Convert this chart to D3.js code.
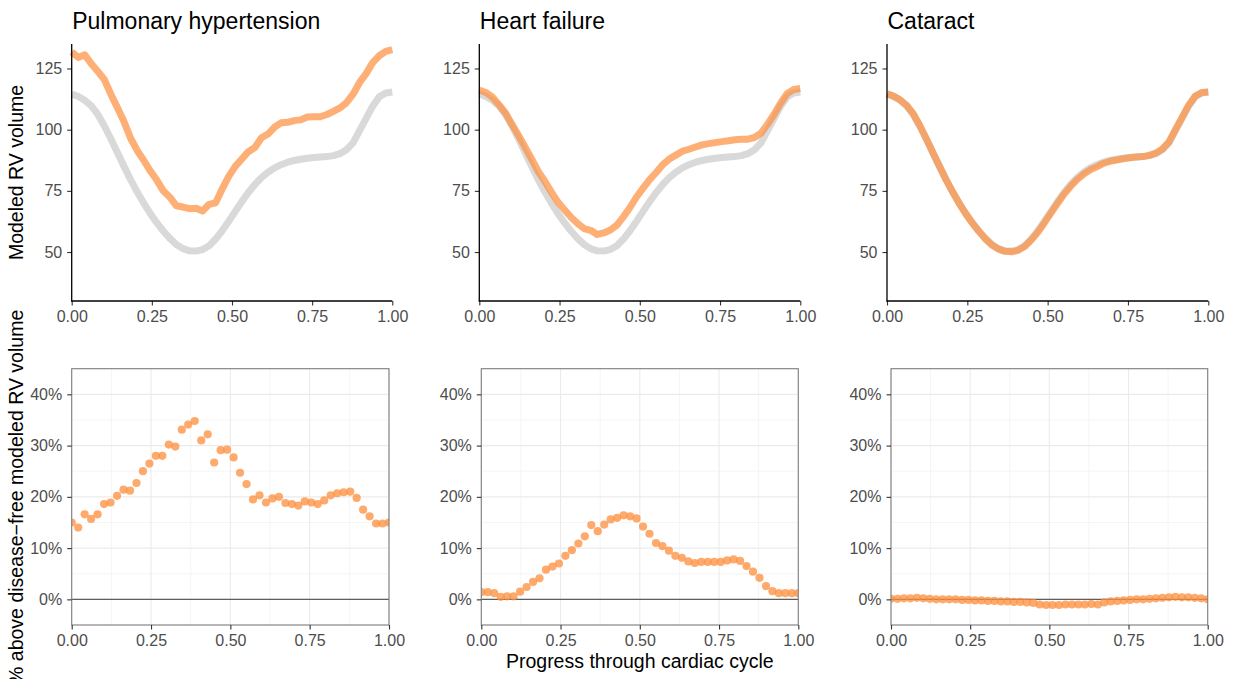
<!DOCTYPE html>
<html>
<head>
<meta charset="utf-8">
<script src="https://cdn.jsdelivr.net/npm/d3@7"></script>
<style>
  html, body { margin: 0; padding: 0; background: #ffffff; }
  svg { display: block; }
  text { font-family: "Liberation Sans", Arial, Helvetica, sans-serif; }
</style>
</head>
<body>
<svg id="chart" width="1233" height="679"></svg>
<script>
// Sample positions through one cardiac cycle (50 samples, 0 to 1)
const cycleProgress = [0, 0.0204, 0.0408, 0.0612, 0.0816, 0.1020, 0.1224, 0.1429, 0.1633, 0.1837,
  0.2041, 0.2245, 0.2449, 0.2653, 0.2857, 0.3061, 0.3265, 0.3469, 0.3673, 0.3878,
  0.4082, 0.4286, 0.4490, 0.4694, 0.4898, 0.5102, 0.5306, 0.5510, 0.5714, 0.5918,
  0.6122, 0.6327, 0.6531, 0.6735, 0.6939, 0.7143, 0.7347, 0.7551, 0.7755, 0.7959,
  0.8163, 0.8367, 0.8571, 0.8776, 0.8980, 0.9184, 0.9388, 0.9592, 0.9796, 1];

// Disease-free modeled RV volume (same reference curve in every panel)
const baselineVolume = [114.6, 113.6, 112.0, 109.7, 106.2, 101.5, 96.2, 90.6, 85.0, 79.6,
  74.6, 70.0, 65.8, 62.0, 58.6, 55.6, 53.1, 51.4, 50.5, 50.4,
  51.0, 52.6, 55.3, 58.7, 62.6, 66.6, 70.6, 74.3, 77.6, 80.4,
  82.6, 84.4, 85.7, 86.7, 87.4, 87.9, 88.3, 88.6, 88.8, 89.0,
  89.4, 90.2, 91.8, 94.6, 99.6, 104.6, 109.6, 113.4, 115.0, 115.4];

// Modeled RV volume with each condition
const phVolume = [131.8, 129.5, 130.6, 126.9, 123.8, 120.4, 114.4, 108.9, 103.2, 96.5,
  91.5, 87.5, 83.2, 79.4, 75.0, 72.4, 68.9, 68.4, 67.7, 67.9,
  66.8, 69.5, 70.1, 75.8, 80.9, 85.0, 88.0, 91.0, 92.7, 96.7,
  98.2, 101.0, 102.8, 103.0, 103.7, 104.0, 105.2, 105.3, 105.3, 106.2,
  107.5, 108.9, 111.0, 114.5, 119.3, 122.9, 127.4, 130.2, 132.0, 132.7];

const hfVolume = [116.2, 115.2, 113.3, 110.2, 106.8, 102.1, 97.6, 92.8, 87.9, 82.9,
  78.9, 74.5, 70.4, 67.3, 64.2, 61.7, 59.6, 58.9, 57.2, 57.8,
  59.0, 61.0, 64.4, 68.2, 72.5, 76.1, 79.6, 82.5, 85.7, 88.0,
  89.6, 91.2, 92.0, 92.9, 93.8, 94.3, 94.7, 95.1, 95.5, 95.9,
  96.1, 96.1, 96.8, 98.6, 102.2, 106.3, 110.9, 114.8, 116.4, 116.8];

const cataractVolume = [114.7, 113.7, 112.2, 109.9, 106.5, 101.7, 96.3, 90.6, 85.0, 79.6,
  74.6, 69.9, 65.7, 61.9, 58.5, 55.4, 52.9, 51.2, 50.3, 50.1,
  50.7, 52.3, 54.9, 58.1, 61.9, 65.9, 69.8, 73.6, 76.8, 79.6,
  81.8, 83.6, 84.8, 86.2, 87.1, 87.6, 88.1, 88.5, 88.8, 89.0,
  89.5, 90.4, 92.1, 95.0, 100.1, 105.0, 110.0, 113.7, 115.2, 115.4];

// Percent above the disease-free modeled RV volume
const phExcess = [15.0, 14.0, 16.6, 15.7, 16.6, 18.6, 18.9, 20.2, 21.4, 21.2,
  22.7, 25.0, 26.5, 28.0, 28.0, 30.2, 29.8, 33.1, 34.1, 34.8,
  31.0, 32.2, 26.7, 29.1, 29.2, 27.7, 24.7, 22.5, 19.5, 20.3,
  18.9, 19.7, 20.0, 18.8, 18.6, 18.3, 19.1, 18.9, 18.6, 19.3,
  20.3, 20.7, 20.9, 21.0, 19.8, 17.5, 16.2, 14.8, 14.8, 15.0];

const hfExcess = [1.4, 1.4, 1.2, 0.5, 0.6, 0.6, 1.5, 2.4, 3.4, 4.1,
  5.8, 6.4, 7.0, 8.5, 9.6, 10.9, 12.3, 14.5, 13.3, 14.6,
  15.6, 15.9, 16.4, 16.2, 15.8, 14.2, 12.8, 11.0, 10.4, 9.5,
  8.5, 8.1, 7.4, 7.1, 7.3, 7.3, 7.3, 7.3, 7.6, 7.8,
  7.5, 6.5, 5.4, 4.2, 2.6, 1.6, 1.2, 1.2, 1.2, 1.2];

const cataractExcess = [0.1, 0.1, 0.2, 0.2, 0.3, 0.2, 0.1, 0.0, 0.0, 0.0,
  0.0, -0.1, -0.1, -0.2, -0.2, -0.3, -0.3, -0.4, -0.4, -0.5,
  -0.5, -0.6, -0.7, -1.0, -1.1, -1.1, -1.1, -1.0, -1.0, -1.0,
  -1.0, -0.9, -1.0, -0.6, -0.4, -0.3, -0.2, -0.1, 0.0, 0.0,
  0.1, 0.2, 0.3, 0.4, 0.5, 0.4, 0.4, 0.3, 0.2, 0.0];

const panelTitles = ["Pulmonary hypertension", "Heart failure", "Cataract"];
const diseaseVolumes = [phVolume, hfVolume, cataractVolume];
const diseaseExcess = [phExcess, hfExcess, cataractExcess];

const progressTicks = [0, 0.25, 0.5, 0.75, 1];
const progressMinor = [0.125, 0.375, 0.625, 0.875];
const volumeTicks = [50, 75, 100, 125];
const excessTicks = [0, 10, 20, 30, 40];
const excessMinor = [-5, 5, 15, 25, 35, 45];

const volumeDomain = [30, 135];
const excessDomain = [-5, 45];

// ---- layout ----
const topRow = { y0: 44, y1: 301, cols: [[71.7, 392.3], [479.3, 800.3], [887, 1208.3]] };
const bottomRow = { y0: 368.7, y1: 625, cols: [[71.7, 389], [481.3, 798.3], [891, 1207.7]] };

const ORANGE = "#fd8d3c";
const GREY_LINE = "#d9d9d9";
const TICK_TEXT = "#4d4d4d";
const TICK_LINE = "#333333";
const FS_TICK = 16;

const svg = d3.select("#chart");

function styleAxis(g) {
  g.select(".domain").remove();
  g.selectAll(".tick line").attr("stroke", TICK_LINE).attr("stroke-width", 1.1);
  g.selectAll(".tick text").attr("fill", TICK_TEXT).attr("font-size", FS_TICK)
    .attr("font-family", "'Liberation Sans', Arial, Helvetica, sans-serif");
}

// ---- top row: modeled volume curves ----
topRow.cols.forEach(([x0, x1], k) => {
  const x = d3.scaleLinear().domain([0, 1]).range([x0, x1]);
  const y = d3.scaleLinear().domain(volumeDomain).range([topRow.y1, topRow.y0]);
  const g = svg.append("g");

  const line = (vals) => d3.line()
    .x((d, i) => x(cycleProgress[i]))
    .y(d => y(d))
    .curve(d3.curveLinear)(vals);

  g.append("path")
    .attr("d", line(baselineVolume))
    .attr("fill", "none")
    .attr("stroke", GREY_LINE)
    .attr("stroke-width", 7)
    .attr("stroke-linejoin", "round");

  g.append("path")
    .attr("d", line(diseaseVolumes[k]))
    .attr("fill", "none")
    .attr("stroke", ORANGE)
    .attr("stroke-opacity", 0.7)
    .attr("stroke-width", 7)
    .attr("stroke-linejoin", "round");

  // axes (classic style: left and bottom lines only)
  g.append("g")
    .attr("transform", `translate(${x0},0)`)
    .call(d3.axisLeft(y).tickValues(volumeTicks).tickSize(4.5).tickPadding(5).tickFormat(d3.format("d")))
    .call(styleAxis);
  g.append("g")
    .attr("transform", `translate(0,${topRow.y1})`)
    .call(d3.axisBottom(x).tickValues(progressTicks).tickSize(4.5).tickPadding(5).tickFormat(d3.format(".2f")))
    .call(styleAxis);

  g.append("line")
    .attr("x1", x0).attr("x2", x0).attr("y1", topRow.y0).attr("y2", topRow.y1 + 0.5)
    .attr("stroke", "#000").attr("stroke-width", 1.3);
  g.append("line")
    .attr("x1", x0 - 0.5).attr("x2", x1).attr("y1", topRow.y1).attr("y2", topRow.y1)
    .attr("stroke", "#000").attr("stroke-width", 1.3);

  svg.append("text")
    .attr("x", x0 + 0.5).attr("y", 28.5)
    .attr("font-size", 23)
    .attr("fill", "#000")
    .text(panelTitles[k]);
});

// ---- bottom row: percent above disease-free volume ----
bottomRow.cols.forEach(([x0, x1], k) => {
  const x = d3.scaleLinear().domain([0, 1]).range([x0, x1]);
  const y = d3.scaleLinear().domain(excessDomain).range([bottomRow.y1, bottomRow.y0]);
  const g = svg.append("g");
  const clipId = `clip-${k}`;

  g.append("clipPath").attr("id", clipId)
    .append("rect")
    .attr("x", x0).attr("y", bottomRow.y0)
    .attr("width", x1 - x0).attr("height", bottomRow.y1 - bottomRow.y0);

  // minor grid
  g.selectAll(".vminor").data(progressMinor).join("line")
    .attr("x1", d => x(d)).attr("x2", d => x(d))
    .attr("y1", bottomRow.y0).attr("y2", bottomRow.y1)
    .attr("stroke", "#f2f2f2").attr("stroke-width", 0.8);
  g.selectAll(".hminor").data(excessMinor).join("line")
    .attr("x1", x0).attr("x2", x1)
    .attr("y1", d => y(d)).attr("y2", d => y(d))
    .attr("stroke", "#f2f2f2").attr("stroke-width", 0.8);
  // major grid
  g.selectAll(".vmajor").data(progressTicks).join("line")
    .attr("x1", d => x(d)).attr("x2", d => x(d))
    .attr("y1", bottomRow.y0).attr("y2", bottomRow.y1)
    .attr("stroke", "#ebebeb").attr("stroke-width", 1.1);
  g.selectAll(".hmajor").data(excessTicks).join("line")
    .attr("x1", x0).attr("x2", x1)
    .attr("y1", d => y(d)).attr("y2", d => y(d))
    .attr("stroke", "#ebebeb").attr("stroke-width", 1.1);

  // zero reference line
  g.append("line")
    .attr("x1", x0).attr("x2", x1)
    .attr("y1", y(0)).attr("y2", y(0))
    .attr("stroke", "#5e5e5e").attr("stroke-width", 1.2);

  // points
  g.append("g").attr("clip-path", `url(#${clipId})`)
    .selectAll("circle")
    .data(diseaseExcess[k])
    .join("circle")
    .attr("cx", (d, i) => x(cycleProgress[i]))
    .attr("cy", d => y(d))
    .attr("r", 4.1)
    .attr("fill", ORANGE)
    .attr("fill-opacity", 0.75);

  // panel border
  g.append("rect")
    .attr("x", x0).attr("y", bottomRow.y0)
    .attr("width", x1 - x0).attr("height", bottomRow.y1 - bottomRow.y0)
    .attr("fill", "none").attr("stroke", "#7f7f7f").attr("stroke-width", 1.1);

  g.append("g")
    .attr("transform", `translate(${x0},0)`)
    .call(d3.axisLeft(y).tickValues(excessTicks).tickSize(4.5).tickPadding(5).tickFormat(d => d + "%"))
    .call(styleAxis);
  g.append("g")
    .attr("transform", `translate(0,${bottomRow.y1})`)
    .call(d3.axisBottom(x).tickValues(progressTicks).tickSize(4.5).tickPadding(5).tickFormat(d3.format(".2f")))
    .call(styleAxis);
});

// ---- axis titles ----
svg.append("text")
  .attr("transform", `translate(23,${(topRow.y0 + topRow.y1) / 2}) rotate(-90)`)
  .attr("text-anchor", "middle")
  .attr("font-size", 19.5)
  .attr("fill", "#000")
  .text("Modeled RV volume");

svg.append("text")
  .attr("transform", `translate(23,${(bottomRow.y0 + bottomRow.y1) / 2}) rotate(-90)`)
  .attr("text-anchor", "middle")
  .attr("font-size", 19.5)
  .attr("fill", "#000")
  .text("% above disease\u2212free modeled RV volume");

svg.append("text")
  .attr("x", (bottomRow.cols[1][0] + bottomRow.cols[1][1]) / 2)
  .attr("y", 668)
  .attr("text-anchor", "middle")
  .attr("font-size", 19.5)
  .attr("fill", "#000")
  .text("Progress through cardiac cycle");
</script>
</body>
</html>
